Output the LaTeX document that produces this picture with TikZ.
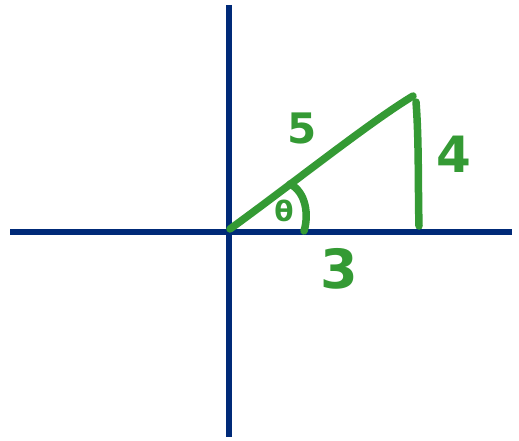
\documentclass[tikz,border=0pt]{standalone}
\usepackage{fontspec}
\setmainfont{DejaVu Sans}
\definecolor{axisblue}{RGB}{0,42,120}
\definecolor{pen}{RGB}{52,154,52}
\begin{document}
\begin{tikzpicture}[x=1pt,y=-1pt,
  axis/.style={draw=axisblue,line width=6.5pt},
  stroke/.style={draw=pen,line width=7.5pt,line cap=round,line join=round},
  lbl/.style={text=pen,font=\bfseries\fontsize{42}{42}\selectfont,inner sep=0pt}]
\useasboundingbox (0,0) rectangle (519,441);
\coordinate (top) at (229,5);
\coordinate (bot) at (229,437);
\coordinate (left) at (10,232);
\coordinate (right) at (512,232);
\draw[axis] (top) -- (bot);
\draw[axis] (left) -- (right);
\coordinate (O) at (230,229);
\coordinate (P) at (413,96);
\coordinate (Q) at (416,102);
\coordinate (R) at (419,226);
\coordinate (A1) at (290,184);
\coordinate (A2) at (304,231);
\draw[stroke] (O) .. controls (300,178) and (370,122) .. (P);
\draw[stroke] (Q) .. controls (419,140) and (418,190) .. (R);
\draw[stroke] (A1) .. controls (306,192) and (309,215) .. (A2);
\node[lbl] (five) at (302,128) {5};
\node[lbl,font=\bfseries\fontsize{50}{50}\selectfont] (four) at (454,154) {4};
\node[lbl,font=\bfseries\fontsize{54}{54}\selectfont] (three) at (339,269) {3};
\node[lbl,font=\bfseries\fontsize{28}{28}\selectfont] (theta) at (284,211) {θ};
\end{tikzpicture}
\end{document}
